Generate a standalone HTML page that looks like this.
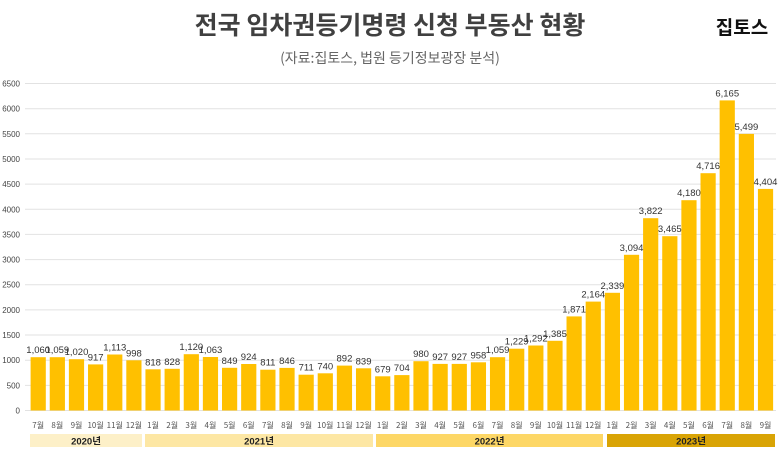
<!DOCTYPE html>
<html><head><meta charset="utf-8"><style>
body{margin:0;background:#fff;}
text{font-family:"Liberation Sans","Noto Sans CJK KR",sans-serif;}
.k{font-family:"Noto Sans CJK KR",sans-serif;}
.g line{stroke:#e2e2e2;stroke-width:1}
.ya text{font-size:8px;fill:#444;text-anchor:end}
.b rect{fill:#ffc000}
.v text{font-size:9.5px;fill:#333;text-anchor:middle}
.m text{font-size:8px;fill:#555;text-anchor:middle;font-family:"Noto Sans CJK KR",sans-serif}
</style></head><body>
<svg width="780" height="457" xmlns="http://www.w3.org/2000/svg">
<text class="k" x="390" y="34" text-anchor="middle" font-size="25" font-weight="bold" fill="#404040">전국 임차권등기명령 신청 부동산 현황</text>
<text class="k" x="742" y="34" text-anchor="middle" font-size="19" font-weight="bold" fill="#111">집토스</text>
<text class="k" x="390" y="63" text-anchor="middle" font-size="14" fill="#666">(자료:집토스, 법원 등기정보광장 분석)</text>
<g class="g">
<line x1="25" x2="776" y1="410.5" y2="410.5"/><line x1="25" x2="776" y1="385.4" y2="385.4"/><line x1="25" x2="776" y1="360.2" y2="360.2"/><line x1="25" x2="776" y1="335" y2="335"/><line x1="25" x2="776" y1="309.9" y2="309.9"/><line x1="25" x2="776" y1="284.7" y2="284.7"/><line x1="25" x2="776" y1="259.6" y2="259.6"/><line x1="25" x2="776" y1="234.4" y2="234.4"/><line x1="25" x2="776" y1="209.3" y2="209.3"/><line x1="25" x2="776" y1="184.1" y2="184.1"/><line x1="25" x2="776" y1="159" y2="159"/><line x1="25" x2="776" y1="133.8" y2="133.8"/><line x1="25" x2="776" y1="108.7" y2="108.7"/><line x1="25" x2="776" y1="83.5" y2="83.5"/>
</g>
<g class="ya">
<text x="20" y="413.5">0</text><text x="20" y="388.4">500</text><text x="20" y="363.2">1000</text><text x="20" y="338">1500</text><text x="20" y="312.9">2000</text><text x="20" y="287.7">2500</text><text x="20" y="262.6">3000</text><text x="20" y="237.4">3500</text><text x="20" y="212.3">4000</text><text x="20" y="187.1">4500</text><text x="20" y="162">5000</text><text x="20" y="136.8">5500</text><text x="20" y="111.7">6000</text><text x="20" y="86.5">6500</text>
</g>
<g class="b">
<rect x="30.6" y="357.2" width="15.2" height="53.3"/><rect x="49.74" y="357.2" width="15.2" height="53.3"/><rect x="68.88" y="359.2" width="15.2" height="51.3"/><rect x="88.02" y="364.4" width="15.2" height="46.1"/><rect x="107.16" y="354.5" width="15.2" height="56"/><rect x="126.3" y="360.3" width="15.2" height="50.2"/><rect x="145.44" y="369.3" width="15.2" height="41.2"/><rect x="164.58" y="368.8" width="15.2" height="41.7"/><rect x="183.72" y="354.2" width="15.2" height="56.3"/><rect x="202.86" y="357" width="15.2" height="53.5"/><rect x="222" y="367.8" width="15.2" height="42.7"/><rect x="241.14" y="364" width="15.2" height="46.5"/><rect x="260.28" y="369.7" width="15.2" height="40.8"/><rect x="279.42" y="367.9" width="15.2" height="42.6"/><rect x="298.56" y="374.7" width="15.2" height="35.8"/><rect x="317.7" y="373.3" width="15.2" height="37.2"/><rect x="336.84" y="365.6" width="15.2" height="44.9"/><rect x="355.98" y="368.3" width="15.2" height="42.2"/><rect x="375.12" y="376.3" width="15.2" height="34.2"/><rect x="394.26" y="375.1" width="15.2" height="35.4"/><rect x="413.4" y="361.2" width="15.2" height="49.3"/><rect x="432.54" y="363.9" width="15.2" height="46.6"/><rect x="451.68" y="363.9" width="15.2" height="46.6"/><rect x="470.82" y="362.3" width="15.2" height="48.2"/><rect x="489.96" y="357.2" width="15.2" height="53.3"/><rect x="509.1" y="348.7" width="15.2" height="61.8"/><rect x="528.24" y="345.5" width="15.2" height="65"/><rect x="547.38" y="340.8" width="15.2" height="69.7"/><rect x="566.52" y="316.4" width="15.2" height="94.1"/><rect x="585.66" y="301.6" width="15.2" height="108.9"/><rect x="604.8" y="292.8" width="15.2" height="117.7"/><rect x="623.94" y="254.8" width="15.2" height="155.7"/><rect x="643.08" y="218.2" width="15.2" height="192.3"/><rect x="662.22" y="236.2" width="15.2" height="174.3"/><rect x="681.36" y="200.2" width="15.2" height="210.3"/><rect x="700.5" y="173.2" width="15.2" height="237.3"/><rect x="719.64" y="100.4" width="15.2" height="310.1"/><rect x="738.78" y="133.9" width="15.2" height="276.6"/><rect x="757.92" y="188.9" width="15.2" height="221.6"/>
</g>
<g class="v">
<text x="38.2" y="353.2">1,060</text><text x="57.34" y="353.2">1,059</text><text x="76.48" y="355.2">1,020</text><text x="95.62" y="360.4">917</text><text x="114.76" y="350.5">1,113</text><text x="133.9" y="356.3">998</text><text x="153.04" y="365.3">818</text><text x="172.18" y="364.8">828</text><text x="191.32" y="350.2">1,120</text><text x="210.46" y="353">1,063</text><text x="229.6" y="363.8">849</text><text x="248.74" y="360">924</text><text x="267.88" y="365.7">811</text><text x="287.02" y="363.9">846</text><text x="306.16" y="370.7">711</text><text x="325.3" y="369.3">740</text><text x="344.44" y="361.6">892</text><text x="363.58" y="364.3">839</text><text x="382.72" y="372.3">679</text><text x="401.86" y="371.1">704</text><text x="421" y="357.2">980</text><text x="440.14" y="359.9">927</text><text x="459.28" y="359.9">927</text><text x="478.42" y="358.3">958</text><text x="497.56" y="353.2">1,059</text><text x="516.7" y="344.7">1,229</text><text x="535.84" y="341.5">1,292</text><text x="554.98" y="336.8">1,385</text><text x="574.12" y="312.4">1,871</text><text x="593.26" y="297.6">2,164</text><text x="612.4" y="288.8">2,339</text><text x="631.54" y="250.8">3,094</text><text x="650.68" y="214.2">3,822</text><text x="669.82" y="232.2">3,465</text><text x="688.96" y="196.2">4,180</text><text x="708.1" y="169.2">4,716</text><text x="727.24" y="96.4">6,165</text><text x="746.38" y="129.9">5,499</text><text x="765.52" y="184.9">4,404</text>
</g>
<g class="m">
<text x="38.2" y="428">7월</text><text x="57.34" y="428">8월</text><text x="76.48" y="428">9월</text><text x="95.62" y="428">10월</text><text x="114.76" y="428">11월</text><text x="133.9" y="428">12월</text><text x="153.04" y="428">1월</text><text x="172.18" y="428">2월</text><text x="191.32" y="428">3월</text><text x="210.46" y="428">4월</text><text x="229.6" y="428">5월</text><text x="248.74" y="428">6월</text><text x="267.88" y="428">7월</text><text x="287.02" y="428">8월</text><text x="306.16" y="428">9월</text><text x="325.3" y="428">10월</text><text x="344.44" y="428">11월</text><text x="363.58" y="428">12월</text><text x="382.72" y="428">1월</text><text x="401.86" y="428">2월</text><text x="421" y="428">3월</text><text x="440.14" y="428">4월</text><text x="459.28" y="428">5월</text><text x="478.42" y="428">6월</text><text x="497.56" y="428">7월</text><text x="516.7" y="428">8월</text><text x="535.84" y="428">9월</text><text x="554.98" y="428">10월</text><text x="574.12" y="428">11월</text><text x="593.26" y="428">12월</text><text x="612.4" y="428">1월</text><text x="631.54" y="428">2월</text><text x="650.68" y="428">3월</text><text x="669.82" y="428">4월</text><text x="688.96" y="428">5월</text><text x="708.1" y="428">6월</text><text x="727.24" y="428">7월</text><text x="746.38" y="428">8월</text><text x="765.52" y="428">9월</text>
</g>
<rect x="30" y="434" width="112" height="13" fill="#fdf0c8"/><text x="86" y="444.5" text-anchor="middle" font-size="9.5" font-weight="bold" fill="#222">2020년</text>
<rect x="145" y="434" width="228" height="13" fill="#fde7a4"/><text x="259" y="444.5" text-anchor="middle" font-size="9.5" font-weight="bold" fill="#222">2021년</text>
<rect x="376" y="434" width="227" height="13" fill="#fdd766"/><text x="489.5" y="444.5" text-anchor="middle" font-size="9.5" font-weight="bold" fill="#222">2022년</text>
<rect x="607" y="434" width="168" height="13" fill="#d9a405"/><text x="691" y="444.5" text-anchor="middle" font-size="9.5" font-weight="bold" fill="#222">2023년</text>
</svg>
</body></html>
